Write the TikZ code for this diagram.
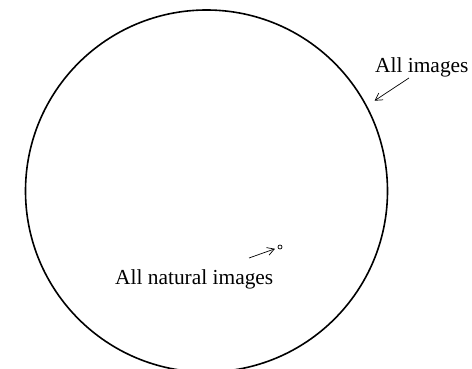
\documentclass[tikz,border=0pt]{standalone}
\usepackage{fontspec}
\setmainfont{Liberation Serif}
\usetikzlibrary{arrows.meta}

\begin{document}
\begin{tikzpicture}[
  x=1pt, y=-1pt,
  font=\fontsize{21.4}{25}\selectfont,
  insieme/.style={draw=black, circle, line width=1.6pt, minimum size=362pt, inner sep=0pt},
  puntino/.style={draw=black, circle, line width=0.7pt, minimum size=4pt, inner sep=0pt},
  etichetta/.style={anchor=base west, inner sep=0pt},
  freccia/.style={draw=black, line width=0.7pt, -{Straight Barb[length=7pt,width=8pt]}}
]
% cornice (taglia il cerchio in basso)
\clip (0,0) rectangle (472,369);

\node[insieme] (tutte) at (206.5,191) {};
\node[puntino] (naturali) at (280,247) {};

\node[etichetta] (lblTutte) at (375,72.5) {All images};
\node[etichetta] (lblNaturali) at (115,284) {All natural images};

% frecce
\coordinate (codaT) at (409,78);
\coordinate (codaN) at (249,258);
\draw[freccia, shorten >=9pt] (codaT) -- (tutte.28);
\draw[freccia, shorten >=3pt] (codaN) -- (naturali);

\end{tikzpicture}
\end{document}
